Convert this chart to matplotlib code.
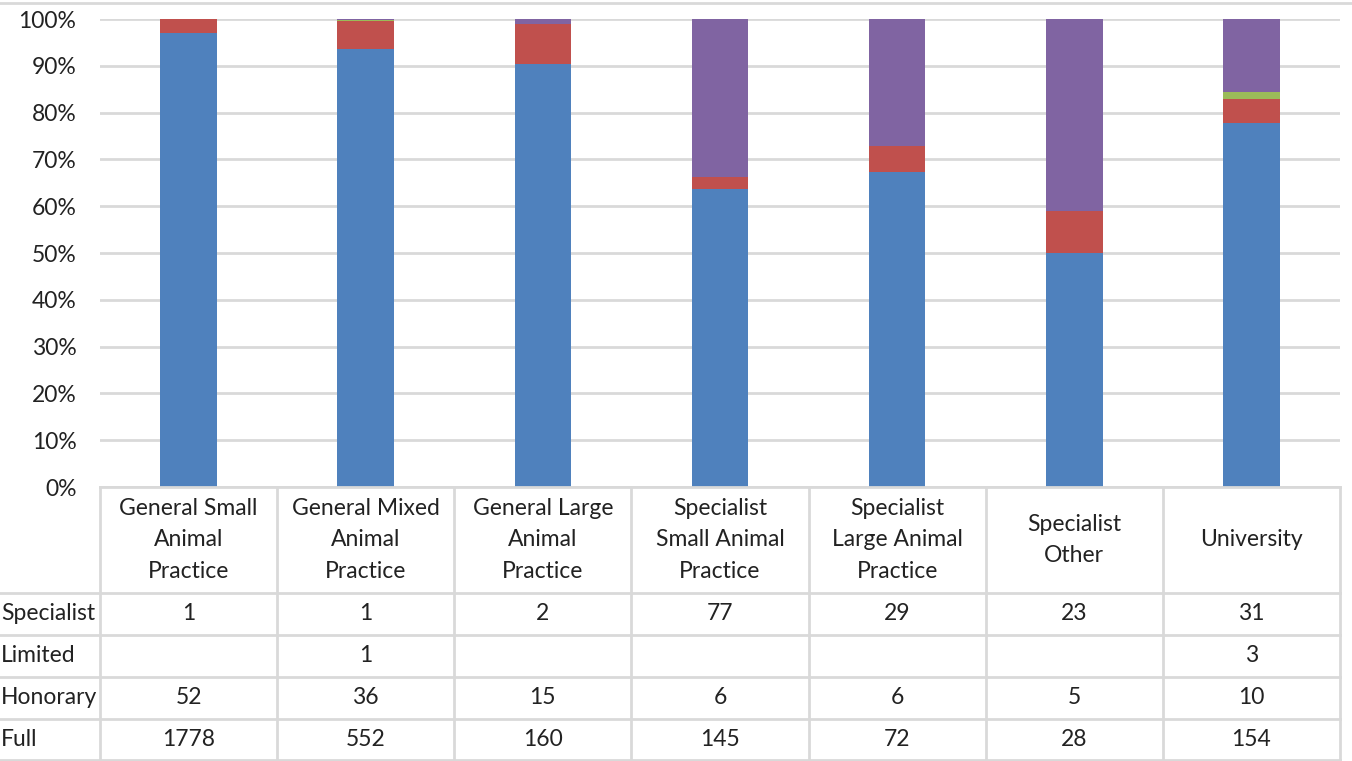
import numpy as np
import matplotlib.pyplot as plt
from matplotlib.lines import Line2D

categories = ["General Small\nAnimal\nPractice", "General Mixed\nAnimal\nPractice",
              "General Large\nAnimal\nPractice", "Specialist\nSmall Animal\nPractice",
              "Specialist\nLarge Animal\nPractice", "Specialist\nOther", "University"]
series_names = ["Specialist", "Limited", "Honorary", "Full"]
specialist = [1, 1, 2, 77, 29, 23, 31]
limited = [None, 1, None, None, None, None, 3]
honorary = [52, 36, 15, 6, 6, 5, 10]
full = [1778, 552, 160, 145, 72, 28, 154]
colors = {"Full": "#4F81BD", "Honorary": "#C0504D", "Limited": "#9BBB59", "Specialist": "#8064A2"}

plt.rcParams['font.family'] = ['Lato', 'DejaVu Sans']
FS = 16.5
TXT = "#222222"

W, H = 1352, 761
fig = plt.figure(figsize=(W / 100, H / 100), dpi=100)

# pixel helpers
def fx(px):
    return px / W
def fy(py):
    return (H - py) / H

left, right, y0, y100 = 100, 1340, 487, 19
ax = fig.add_axes([fx(left), fy(y0), fx(right) - fx(left), fy(y100) - fy(y0)])

series = {"Specialist": specialist, "Limited": limited, "Honorary": honorary, "Full": full}
vals = {k: np.array([0 if v is None else v for v in s], dtype=float) for k, s in series.items()}
total = sum(vals.values())
x = np.arange(len(categories))
bottom = np.zeros(len(categories))
for name in ["Full", "Honorary", "Limited", "Specialist"]:
    pct = vals[name] / total
    ax.bar(x, pct, 0.32, bottom=bottom, color=colors[name], zorder=3)
    bottom += pct

ax.set_xlim(-0.5, len(categories) - 0.5)
ax.set_ylim(0, 1)
ticks = np.arange(0, 1.01, 0.1)
ax.set_yticks(ticks)
ax.set_yticklabels([f"{int(round(t * 100))}%" for t in ticks], fontsize=FS, color=TXT)
ax.tick_params(axis='y', length=0, pad=17)
ax.set_xticks([])
ax.grid(axis='y', color="#D9D9D9", linewidth=2, zorder=0)
for s in ax.spines.values():
    s.set_visible(False)

# data table below the plot
grid_c = "#D9D9D9"
col_w = (right - left) / len(categories)
row_edges = [487, 593, 635, 677, 719, 760]
def hline(py, x0, x1):
    fig.add_artist(Line2D([fx(x0), fx(x1)], [fy(py), fy(py)], color=grid_c, lw=2))
def vline(px, ya, yb):
    fig.add_artist(Line2D([fx(px), fx(px)], [fy(ya), fy(yb)], color=grid_c, lw=2))

hline(row_edges[0], left, right)
for py in row_edges[1:]:
    hline(py, 0, right)
for i in range(len(categories) + 1):
    vline(left + i * col_w, row_edges[0], row_edges[-1])

for i, cat in enumerate(categories):
    cx = left + (i + 0.5) * col_w
    fig.text(fx(cx), fy((row_edges[0] + row_edges[1]) / 2), cat, ha='center', va='center',
             fontsize=FS, linespacing=1.6, color=TXT)
    for r, name in enumerate(series_names):
        v = series[name][i]
        if v is not None:
            fig.text(fx(cx), fy((row_edges[r + 1] + row_edges[r + 2]) / 2), str(v),
                     ha='center', va='center', fontsize=FS, color=TXT)

for r, name in enumerate(series_names):
    fig.text(fx(1), fy((row_edges[r + 1] + row_edges[r + 2]) / 2), name,
             ha='left', va='center', fontsize=FS, color=TXT)

# thin border line at top
fig.add_artist(Line2D([0, 1], [fy(3), fy(3)], color=grid_c, lw=2))

fig.savefig("out.png", dpi=100)
